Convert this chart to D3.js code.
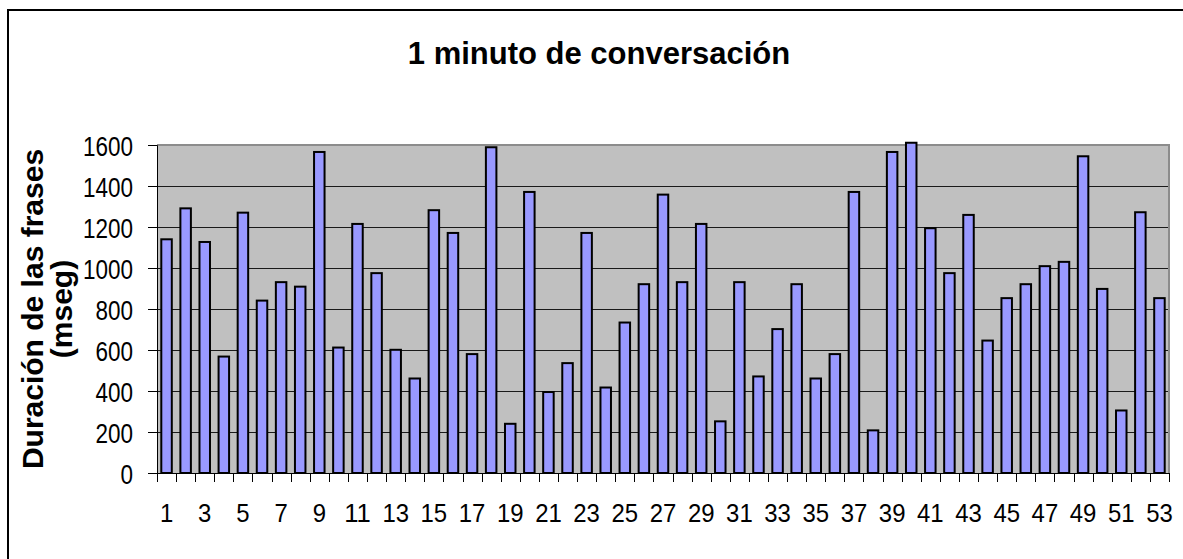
<!DOCTYPE html>
<html>
<head>
<meta charset="utf-8">
<script src="https://cdnjs.cloudflare.com/ajax/libs/d3/7.8.5/d3.min.js"></script>
<style>
  body { margin: 0; background: #fff; }
  svg { display: block; font-family: "Liberation Sans", Arial, sans-serif; }
  svg text { font-family: "Liberation Sans", Arial, sans-serif; }
</style>
</head>
<body>
<div id="content"></div>
<script>
// data
const categories = d3.range(1, 54);
const durations = [
  1140, 1291, 1127, 568, 1270, 841, 931, 909, 1566, 612,
  1215, 975, 601, 461, 1282, 1171, 580, 1589, 240, 1371,
  395, 536, 1171, 417, 734, 921, 1358, 931, 1215, 252,
  931, 471, 702, 921, 461, 580, 1371, 208, 1566, 1611,
  1194, 975, 1259, 646, 853, 921, 1009, 1030, 1545, 898,
  305, 1272, 853
];
const yTicks = [0, 200, 400, 600, 800, 1000, 1200, 1400, 1600];
const chartTitle = '1 minuto de conversación';
const yTitle = ['Duración de las frases', '(mseg)'];

var app = {};
app.W = 1183;
app.H = 559;
var plot = { left: 157, right: 1169, top: 145, bottom: 473 };

app.svg = d3.select('#content').append('svg')
  .attr('width', app.W)
  .attr('height', app.H);

// outer frame (runs past the right and bottom edges)
app.svg.append('rect')
  .attr('x', 8).attr('y', 10)
  .attr('width', app.W + 20).attr('height', app.H + 20)
  .attr('fill', '#fff')
  .attr('stroke', '#000')
  .attr('stroke-width', 2);

// category slots and the bars inside them
app.xCat = d3.scaleBand()
  .domain(categories)
  .range([plot.left, plot.right])
  .padding(0);

app.x = d3.scaleBand()
  .domain(categories)
  .range([plot.left, plot.right])
  .paddingInner(0.45)
  .paddingOuter(0.225);

app.y = d3.scaleLinear()
  .domain([0, 1600])
  .range([plot.bottom, plot.top]);

// plot background
app.svg.append('rect')
  .attr('x', plot.left).attr('y', plot.top)
  .attr('width', plot.right - plot.left)
  .attr('height', plot.bottom - plot.top)
  .attr('fill', '#c0c0c0');

// gridlines
app.svg.append('g')
  .selectAll('line')
  .data(yTicks.filter(d => d > 0 && d < 1600))
  .enter().append('line')
  .attr('x1', plot.left).attr('x2', plot.right)
  .attr('y1', d => Math.round(app.y(d)) + 0.5)
  .attr('y2', d => Math.round(app.y(d)) + 0.5)
  .attr('stroke', '#1a1a1a')
  .attr('stroke-width', 1);

// plot border top/right (grey)
app.svg.append('path')
  .attr('d', `M${plot.left},${plot.top}H${plot.right}V${plot.bottom}`)
  .attr('fill', 'none')
  .attr('stroke', '#8c8c8c')
  .attr('stroke-width', 2);

// bars
app.svg.append('g')
  .selectAll('rect')
  .data(durations)
  .enter().append('rect')
  .attr('x', (d, i) => app.x(categories[i]))
  .attr('width', app.x.bandwidth())
  .attr('y', d => app.y(d))
  .attr('height', d => app.y(0) - app.y(d))
  .attr('fill', '#9999ff')
  .attr('stroke', '#000')
  .attr('stroke-width', 2);

// y axis
app.yAxis = d3.axisLeft(app.y)
  .tickValues(yTicks)
  .tickFormat(d3.format('d'))
  .tickSize(9)
  .tickPadding(15);

app.yGuide = app.svg.append('g')
  .attr('transform', `translate(${plot.left},0)`)
  .call(app.yAxis)
  .attr('font-family', null)
  .attr('font-size', null);
app.yGuide.select('.domain').attr('stroke', '#000');
app.yGuide.selectAll('.tick line').attr('stroke', '#000');
app.yGuide.selectAll('.tick text')
  .attr('fill', '#000')
  .style('font-size', '28px')
  .attr('dy', '0.36em')
  .attr('textLength', d => String(d).length * 12.5)
  .attr('lengthAdjust', 'spacingAndGlyphs');

// x axis line
app.svg.append('line')
  .attr('x1', plot.left).attr('x2', plot.right)
  .attr('y1', plot.bottom + 0.5).attr('y2', plot.bottom + 0.5)
  .attr('stroke', '#000');

// x ticks at category boundaries
var bounds = categories.map(c => app.xCat(c)).concat([plot.right]);
app.svg.append('g')
  .selectAll('line')
  .data(bounds)
  .enter().append('line')
  .attr('x1', d => Math.round(d) + 0.5).attr('x2', d => Math.round(d) + 0.5)
  .attr('y1', plot.bottom).attr('y2', plot.bottom + 9)
  .attr('stroke', '#000');

// x labels, odd categories only
app.xAxis = d3.axisBottom(app.xCat)
  .tickValues(categories.filter(c => c % 2 === 1))
  .tickSize(0)
  .tickPadding(31);

app.xGuide = app.svg.append('g')
  .attr('transform', `translate(0,${plot.bottom})`)
  .call(app.xAxis)
  .attr('font-family', null)
  .attr('font-size', null);
app.xGuide.select('.domain').remove();
app.xGuide.selectAll('.tick text')
  .attr('fill', '#000')
  .style('font-size', '26px')
  .attr('textLength', d => String(d).length * 13.3)
  .attr('lengthAdjust', 'spacingAndGlyphs');

// title
app.svg.append('text')
  .attr('x', 599).attr('y', 64)
  .attr('text-anchor', 'middle')
  .style('font-size', '31px')
  .style('font-weight', 'bold')
  .text(chartTitle);

// y title, two lines
var cy = (plot.top + plot.bottom) / 2;
app.svg.append('g')
  .selectAll('text')
  .data(yTitle)
  .enter().append('text')
  .attr('transform', (d, i) => `translate(${[43, 72][i]},${cy}) rotate(-90)`)
  .attr('text-anchor', 'middle')
  .style('font-size', '30px')
  .style('font-weight', 'bold')
  .text(d => d);
</script>
</body>
</html>
